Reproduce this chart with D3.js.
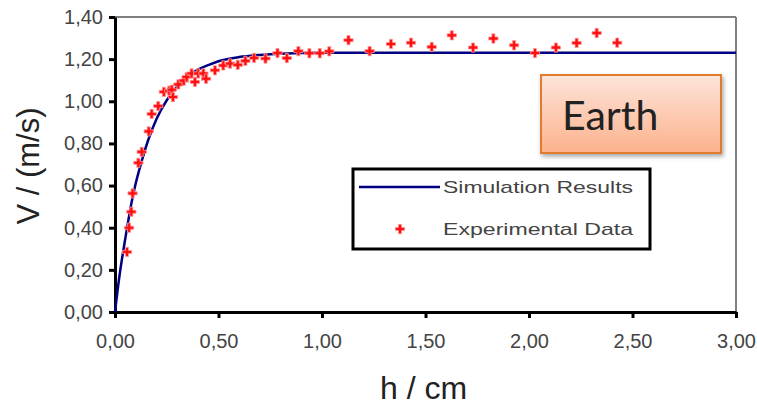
<!DOCTYPE html>
<html>
<head>
<meta charset="utf-8">
<script src="https://cdn.jsdelivr.net/npm/d3@7"></script>
<style>
  body { margin: 0; background: #fff; }
  svg { display: block; }
</style>
</head>
<body>
<svg id="chart" width="757" height="407"></svg>
<script>
const width = 757;
const height = 407;
const margin = { top: 17, right: 21, bottom: 95, left: 115 };

// simulation curve
const simH = [0, 0.02, 0.05, 0.08, 0.10, 0.13, 0.16, 0.20, 0.25, 0.30, 0.35, 0.40, 0.45, 0.50, 0.60, 0.70, 0.80, 1.00, 1.50, 2.00, 2.50, 3.00];
const simV = [0, 0.16, 0.35, 0.52, 0.61, 0.72, 0.815, 0.915, 1.005, 1.07, 1.115, 1.15, 1.172, 1.19, 1.21, 1.22, 1.226, 1.23, 1.23, 1.23, 1.23, 1.23];

// experimental points
const expH = [0.058, 0.068, 0.079, 0.085, 0.113, 0.129, 0.163, 0.177, 0.209, 0.236, 0.262, 0.274, 0.28, 0.306, 0.332, 0.346, 0.37, 0.386, 0.402, 0.427, 0.44, 0.483, 0.523, 0.556, 0.593, 0.63, 0.672,
  0.727, 0.785, 0.83, 0.886, 0.939, 0.989, 1.035,
  1.128, 1.23, 1.333, 1.43, 1.53, 1.627, 1.73, 1.828, 1.928, 2.029, 2.13, 2.23, 2.327, 2.426];
const expV = [0.285, 0.40, 0.476, 0.563, 0.708, 0.76, 0.857, 0.94, 0.977, 1.045, 1.05, 1.055, 1.02, 1.08, 1.098, 1.115, 1.132, 1.092, 1.132, 1.132, 1.107, 1.147, 1.17, 1.179, 1.173, 1.192, 1.206,
  1.203, 1.229, 1.205, 1.238, 1.228, 1.228, 1.237,
  1.29, 1.238, 1.272, 1.278, 1.258, 1.313, 1.255, 1.298, 1.266, 1.229, 1.255, 1.277, 1.324, 1.278];

const xTicks = [0, 0.5, 1, 1.5, 2, 2.5, 3];
const yTicks = [0, 0.2, 0.4, 0.6, 0.8, 1.0, 1.2, 1.4];
const legendLabels = ["Simulation Results", "Experimental Data"];

const simData = simH.map((h, i) => ({ h: h, v: simV[i] }));
const expData = expH.map((h, i) => ({ h: h, v: expV[i] }));

const svg = d3.select("#chart");
svg.append("rect").attr("width", width).attr("height", height).attr("fill", "#fff");

const x = d3.scaleLinear().domain([0, 3]).range([margin.left, width - margin.right]);
const y = d3.scaleLinear().domain([0, 1.4]).range([height - margin.bottom, margin.top]);

const locale = d3.formatLocale({ decimal: ",", thousands: ".", grouping: [3], currency: ["", ""] });
const fmt = locale.format(".2f");

// plot frame: grey top/right, black axes
svg.append("line")
  .attr("x1", x(0)).attr("x2", x(3)).attr("y1", y(1.4)).attr("y2", y(1.4))
  .attr("stroke", "#808080").attr("stroke-width", 2);
svg.append("line")
  .attr("x1", x(3)).attr("x2", x(3)).attr("y1", y(1.4)).attr("y2", y(0))
  .attr("stroke", "#808080").attr("stroke-width", 2);

const xAxis = svg.append("g")
  .attr("transform", `translate(0, ${y(0)})`)
  .call(d3.axisBottom(x).tickValues(xTicks).tickFormat(fmt).tickSize(6).tickSizeOuter(0));
const yAxis = svg.append("g")
  .attr("transform", `translate(${x(0)}, 0)`)
  .call(d3.axisLeft(y).tickValues(yTicks).tickFormat(fmt).tickSize(6).tickSizeOuter(0));

[xAxis, yAxis].forEach(function (g) {
  g.select(".domain").attr("stroke", "#000").attr("stroke-width", 3);
  g.selectAll(".tick line").attr("stroke", "#000").attr("stroke-width", 3);
  g.selectAll(".tick text")
    .attr("fill", "#444")
    .style("font-family", "Liberation Sans, Arial, sans-serif")
    .style("font-size", "20px");
});
xAxis.selectAll(".tick text").attr("y", 22);
yAxis.selectAll(".tick text").attr("x", -12);

// axis titles
svg.append("text")
  .attr("x", (x(0) + x(3)) / 2 - 2)
  .attr("y", 399)
  .attr("text-anchor", "middle")
  .attr("fill", "#222")
  .style("font-family", "Liberation Sans, Arial, sans-serif")
  .style("font-size", "32px")
  .text("h / cm");
svg.append("text")
  .attr("transform", "translate(39, 166) rotate(-90)")
  .attr("text-anchor", "middle")
  .attr("fill", "#222")
  .style("font-family", "Liberation Sans, Arial, sans-serif")
  .style("font-size", "31px")
  .text("V / (m/s)");

// simulation line
const line = d3.line().x(d => x(d.h)).y(d => y(d.v)).curve(d3.curveMonotoneX);
svg.append("path")
  .datum(simData)
  .attr("d", line)
  .attr("fill", "none")
  .attr("stroke", "#000080")
  .attr("stroke-width", 2.5);

// experimental points
const marker = d3.symbol().type(d3.symbolCross).size(48);
svg.selectAll(".pt")
  .data(expData)
  .enter()
  .append("path")
  .attr("class", "pt")
  .attr("transform", d => `translate(${x(d.h)}, ${y(d.v)})`)
  .attr("d", marker)
  .attr("fill", "#ff1010")
  .attr("stroke", "#ff9a9a")
  .attr("stroke-width", 0.8);

// legend
const legend = svg.append("g");
legend.append("rect")
  .attr("x", 353).attr("y", 169).attr("width", 297).attr("height", 80)
  .attr("fill", "#fff").attr("stroke", "#000").attr("stroke-width", 3);
legend.append("line")
  .attr("x1", 359).attr("x2", 440).attr("y1", 187).attr("y2", 187)
  .attr("stroke", "#000080").attr("stroke-width", 2.5);
legend.append("path")
  .attr("transform", "translate(400, 229)")
  .attr("d", marker)
  .attr("fill", "#ff1010")
  .attr("stroke", "#ff9a9a")
  .attr("stroke-width", 0.8);
legend.selectAll(".lab")
  .data(legendLabels)
  .enter()
  .append("text")
  .attr("class", "lab")
  .attr("x", 443)
  .attr("y", (d, i) => 193 + i * 42)
  .attr("fill", "#444")
  .attr("textLength", 190)
  .attr("lengthAdjust", "spacingAndGlyphs")
  .style("font-family", "Liberation Sans, Arial, sans-serif")
  .style("font-size", "17px")
  .text(d => d);

// "Earth" label box
const defs = svg.append("defs");
const grad = defs.append("linearGradient").attr("id", "peach").attr("x1", 0).attr("y1", 0).attr("x2", 0).attr("y2", 1);
grad.append("stop").attr("offset", "0%").attr("stop-color", "#fde4da");
grad.append("stop").attr("offset", "100%").attr("stop-color", "#fcb28c");
const shadow = defs.append("filter").attr("id", "shadow").attr("x", "-10%").attr("y", "-10%").attr("width", "130%").attr("height", "140%");
shadow.append("feDropShadow").attr("dx", 1.5).attr("dy", 2.5).attr("stdDeviation", 2).attr("flood-color", "#000").attr("flood-opacity", 0.35);

svg.append("rect")
  .attr("x", 541).attr("y", 75).attr("width", 180).attr("height", 78)
  .attr("fill", "url(#peach)")
  .attr("stroke", "#e07b30")
  .attr("stroke-width", 2)
  .attr("filter", "url(#shadow)");
svg.append("text")
  .attr("x", 562).attr("y", 130)
  .attr("fill", "#222")
  .style("font-family", "Lato, 'Open Sans', sans-serif")
  .style("font-size", "41px")
  .text("Earth");
</script>
</body>
</html>
